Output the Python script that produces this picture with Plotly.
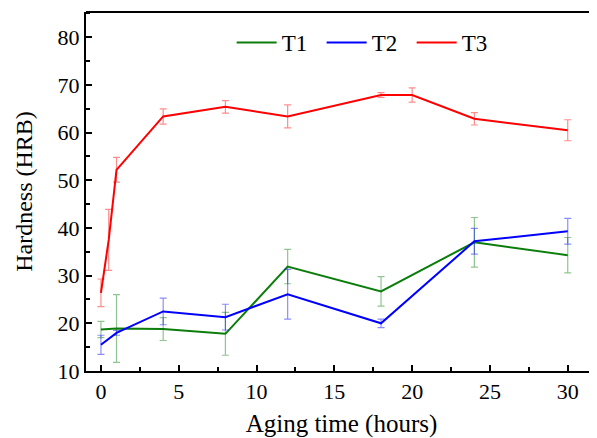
import plotly.graph_objects as go

# Data
hours_t1 = [0, 1, 4, 8, 12, 18, 24, 30]
t1 = [18.7, 18.9, 18.8, 17.8, 31.9, 26.7, 37.0, 34.3]
t1_err = [1.7, 7.1, 2.4, 4.5, 3.6, 3.1, 5.2, 3.7]

hours_t2 = [0, 1, 4, 8, 12, 18, 24, 30]
t2 = [15.5, 18.0, 22.5, 21.3, 26.1, 20.0, 37.2, 39.3]
t2_err = [2.0, 0.5, 2.8, 2.7, 5.2, 0.9, 2.7, 2.7]

hours_t3 = [0, 0.5, 1, 4, 8, 12, 18, 20, 24, 30]
t3 = [26.4, 37.5, 52.2, 63.4, 65.4, 63.4, 67.9, 67.9, 62.9, 60.5]
t3_err = [2.9, 6.4, 2.6, 1.6, 1.3, 2.4, 0.5, 1.5, 1.3, 2.2]

series = [
    ("T1", hours_t1, t1, t1_err, "#0a7d0a", "rgba(10,125,10,0.45)"),
    ("T2", hours_t2, t2, t2_err, "#0000ff", "rgba(0,0,255,0.45)"),
    ("T3", hours_t3, t3, t3_err, "#ff0000", "rgba(255,0,0,0.45)"),
]

FONT = "Liberation Serif, Times New Roman, serif"

fig = go.Figure()
for name, x, y, e, col, ecol in series:
    fig.add_trace(go.Scatter(
        x=x, y=y, name=name, mode="lines",
        line=dict(color=col, width=2),
        error_y=dict(type="data", array=e, visible=True,
                     color=ecol, thickness=1.2, width=3.5),
    ))

axis_common = dict(
    showline=True, linecolor="black", linewidth=2,
    ticks="inside", ticklen=6, tickwidth=2, tickcolor="black",
    showgrid=False, zeroline=False, automargin=False,
    tickfont=dict(family=FONT, size=22, color="black"),
)

# the page body has an 8px margin, so the figure is sized to fit the window
fig.update_layout(
    width=589, height=430,
    margin=dict(l=78, r=0, t=4, b=67),
    paper_bgcolor="white", plot_bgcolor="white",
    font=dict(family=FONT, color="black"),
    xaxis=dict(
        range=[-0.96, 31.88], tickvals=[0, 5, 10, 15, 20, 25, 30],
        minor=dict(ticks="inside", ticklen=4, tickwidth=2, tickcolor="black", dtick=2.5, tick0=0),
        title=dict(text="Aging time (hours)", font=dict(family=FONT, size=25), standoff=17),
        **axis_common,
    ),
    yaxis=dict(
        range=[10, 85.3], tickvals=[10, 20, 30, 40, 50, 60, 70, 80],
        minor=dict(ticks="inside", ticklen=4, tickwidth=2, tickcolor="black", dtick=5, tick0=0),
        title=dict(text="Hardness (HRB)", font=dict(family=FONT, size=24), standoff=18),
        **axis_common,
    ),
    legend=dict(
        orientation="h", x=0.285, xanchor="left", y=0.915, yanchor="middle",
        font=dict(family=FONT, size=23, color="black"),
        bgcolor="rgba(0,0,0,0)", itemwidth=40,
        entrywidth=35, entrywidthmode="pixels",
    ),
    shapes=[dict(type="line", xref="paper", yref="paper", x0=0, x1=1, y0=1, y1=1,
                 line=dict(color="black", width=2))],
)

fig.write_html("out.html")
